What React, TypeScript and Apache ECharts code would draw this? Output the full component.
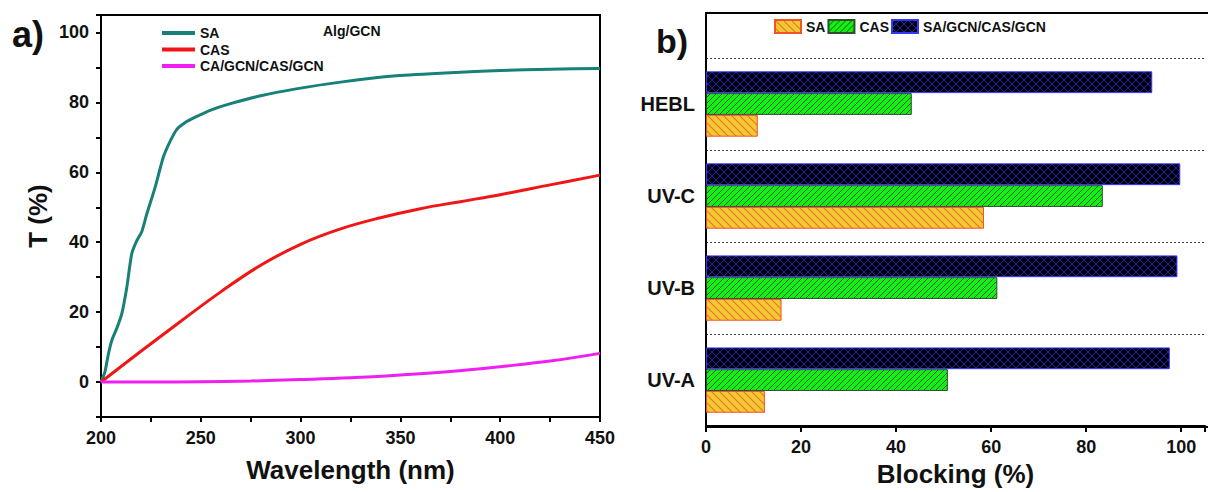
import React, { useEffect, useRef } from "react";
import * as echarts from "echarts";

// ---- Panel a) transmittance curves: [wavelength (nm), T (%)]
const saCurve: number[][] = [
  [200, 0], [202, 3], [203.7, 8], [205.4, 11.9], [208, 15.5], [210.4, 19.5], [212.9, 27],
  [215.4, 36.7], [218, 40.5], [220.4, 43], [222.9, 48], [227.1, 55.7], [231.2, 64.3],
  [234.5, 68.7], [237.9, 72.2], [242, 74.2], [247, 75.7], [255, 77.8], [264, 79.5],
  [280, 81.9], [297, 83.8], [320, 85.8], [348, 87.6], [375, 88.5], [400, 89.1],
  [425, 89.5], [450, 89.7],
];
const casCurve: number[][] = [
  [200, 0], [220, 8.8], [240, 17.4], [260, 25.8], [280, 33.4], [300, 39.4], [320, 43.8],
  [340, 47], [360, 49.6], [380, 51.6], [400, 53.6], [425, 56.4], [450, 59.2],
];
const compositeCurve: number[][] = [
  [200, 0], [225, 0], [250, 0.1], [275, 0.3], [300, 0.7], [325, 1.2], [350, 2],
  [375, 3], [400, 4.4], [425, 6], [450, 8.2],
];
const lineNames = ["SA", "CAS", "CA/GCN/CAS/GCN"];

// ---- Panel b) blocking
const blockCategories = ["UV-A", "UV-B", "UV-C", "HEBL"];
const blockSA = [12.4, 15.9, 58.5, 10.9];
const blockCAS = [50.9, 61.3, 83.5, 43.3];
const blockComposite = [97.6, 99.2, 99.8, 93.9];
const barNames = ["SA", "CAS", "SA/GCN/CAS/GCN"];

const FONT = "Liberation Sans";

function svgPattern(svg: string, size: number) {
  return {
    image: "data:image/svg+xml;charset=utf-8," + encodeURIComponent(svg),
    repeat: "repeat",
    imageWidth: size,
    imageHeight: size,
  } as any;
}

const patSA = svgPattern(
  `<svg xmlns="http://www.w3.org/2000/svg" width="8" height="8"><rect width="8" height="8" fill="#f4c832"/><path d="M-1,-1 L9,9 M-1,7 L1,9 M7,-1 L9,1" stroke="#e8742a" stroke-width="1.1"/></svg>`,
  8
);
const patCAS = svgPattern(
  `<svg xmlns="http://www.w3.org/2000/svg" width="6" height="6"><rect width="6" height="6" fill="#14f014"/><path d="M-1,7 L7,-1 M-1,1 L1,-1 M5,7 L7,5" stroke="#0d5a0d" stroke-width="1"/></svg>`,
  6
);
const patComp = svgPattern(
  `<svg xmlns="http://www.w3.org/2000/svg" width="8" height="8"><rect width="8" height="8" fill="#000010"/><path d="M-1,-1 L9,9 M-1,9 L9,-1" stroke="#20209a" stroke-width="1"/></svg>`,
  8
);

export default function App() {
  const ref = useRef<HTMLDivElement>(null);

  useEffect(() => {
    if (!ref.current) return;
    const chart = echarts.init(ref.current, null, { renderer: "svg" });
    const axisText = { fontFamily: FONT, fontWeight: "bold" as const, color: "#111", fontSize: 18 };
    const barCommon = { type: "bar", xAxisIndex: 1, yAxisIndex: 1, barGap: "0%", barCategoryGap: "29%" };
    const option: any = {
      animation: false,
      backgroundColor: "#fff",
      textStyle: { fontFamily: FONT },
      grid: [
        { left: 101, right: 608, top: 15, bottom: 75, show: true, borderColor: "#000", borderWidth: 2, backgroundColor: "transparent" },
        { left: 706, right: 1, top: 58, bottom: 65 },
      ],
      legend: [
        {
          data: lineNames,
          orient: "vertical",
          left: 157,
          top: 21,
          icon: "rect",
          itemWidth: 33,
          itemHeight: 4,
          itemGap: 2.5,
          textStyle: { fontFamily: FONT, fontWeight: "bold", fontSize: 14, color: "#111", lineHeight: 14 },
          selectedMode: false,
        },
        {
          data: barNames.map((n) => "b:" + n),
          orient: "horizontal",
          left: 769,
          top: 14,
          icon: "rect",
          itemWidth: 26,
          itemHeight: 13,
          itemGap: 2,
          formatter: (n: string) => n.replace(/^b:/, ""),
          textStyle: { fontFamily: FONT, fontWeight: "bold", fontSize: 14, color: "#111" },
          selectedMode: false,
        },
      ],
      xAxis: [
        {
          gridIndex: 0,
          type: "value",
          min: 200,
          max: 450,
          interval: 25,
          name: "Wavelength (nm)",
          nameLocation: "middle",
          nameGap: 40,
          nameTextStyle: { fontFamily: FONT, fontWeight: "bold", fontSize: 26, color: "#111" },
          axisLine: { show: true, onZero: false, lineStyle: { color: "#000", width: 2 } },
          axisTick: { show: true, inside: false, length: 5, lineStyle: { color: "#000", width: 2 } },
          axisLabel: { ...axisText, margin: 12, formatter: (v: number) => (v % 50 === 0 ? String(v) : "") },
          splitLine: { show: false },
        },
        {
          gridIndex: 1,
          type: "value",
          min: 0,
          max: 105,
          interval: 20,
          name: "Blocking (%)",
          nameLocation: "middle",
          nameGap: 33,
          nameTextStyle: { fontFamily: FONT, fontWeight: "bold", fontSize: 26, color: "#111" },
          axisLine: { show: true, onZero: false, lineStyle: { color: "#000", width: 2 } },
          axisTick: { show: true, inside: false, length: 6, lineStyle: { color: "#000", width: 2 } },
          axisLabel: { ...axisText, margin: 12, formatter: (v: number) => (v % 20 === 0 && v <= 100 ? String(v) : "") },
          splitLine: { show: false },
        },
      ],
      yAxis: [
        {
          gridIndex: 0,
          type: "value",
          min: -10,
          max: 105,
          interval: 10,
          name: "T (%)",
          nameLocation: "middle",
          nameGap: 50,
          nameTextStyle: { fontFamily: FONT, fontWeight: "bold", fontSize: 26, color: "#111" },
          axisLine: { show: true, onZero: false, lineStyle: { color: "#000", width: 2 } },
          axisTick: { show: true, inside: false, length: 5, lineStyle: { color: "#000", width: 2 } },
          axisLabel: {
            ...axisText,
            margin: 12,
            formatter: (v: number) => (v >= 0 && v <= 100 && v % 20 === 0 ? String(v) : ""),
          },
          splitLine: { show: false },
        },
        {
          gridIndex: 1,
          type: "category",
          data: blockCategories,
          axisLine: { show: true, lineStyle: { color: "#000", width: 2 } },
          axisTick: { show: false },
          axisLabel: { fontFamily: FONT, fontWeight: "bold", fontSize: 20, color: "#111", margin: 11 },
          splitLine: { show: true, lineStyle: { type: [2, 2], color: "#444", width: 1 } },
        },
      ],
      series: [
        {
          name: lineNames[0], type: "line", xAxisIndex: 0, yAxisIndex: 0, data: saCurve,
          symbol: "none", smooth: 0.2, lineStyle: { color: "#178079", width: 3 }, itemStyle: { color: "#178079" },
        },
        {
          name: lineNames[1], type: "line", xAxisIndex: 0, yAxisIndex: 0, data: casCurve,
          symbol: "none", smooth: 0.4, lineStyle: { color: "#f01616", width: 3 }, itemStyle: { color: "#f01616" },
        },
        {
          name: lineNames[2], type: "line", xAxisIndex: 0, yAxisIndex: 0, data: compositeCurve,
          symbol: "none", smooth: 0.4, lineStyle: { color: "#f01ef0", width: 3 }, itemStyle: { color: "#f01ef0" },
        },
        {
          ...barCommon, name: "b:" + barNames[2], data: blockComposite,
          itemStyle: { color: patComp, borderColor: "#3636ff", borderWidth: 1 },
        },
        {
          ...barCommon, name: "b:" + barNames[1], data: blockCAS,
          itemStyle: { color: patCAS, borderColor: "#2f4f2f", borderWidth: 1 },
        },
        {
          ...barCommon, name: "b:" + barNames[0], data: blockSA,
          itemStyle: { color: patSA, borderColor: "#f2542a", borderWidth: 1 },
        },
      ],
      graphic: [
        { type: "text", left: 12, top: 16, style: { text: "a)", font: `bold 36px "${FONT}"`, fill: "#111" } },
        { type: "text", left: 656, top: 24, style: { text: "b)", font: `bold 34px "${FONT}"`, fill: "#111" } },
        { type: "text", left: 323, top: 24, style: { text: "Alg/GCN", font: `bold 14px "${FONT}"`, fill: "#111" } },
        {
          type: "rect",
          shape: { x: 706, y: 13, width: 510, height: 414 },
          style: { fill: "none", stroke: "#000", lineWidth: 2 },
          silent: true,
        },
      ],
    };
    chart.setOption(option);
    return () => chart.dispose();
  }, []);

  return (
    <div
      ref={ref}
      style={{ position: "absolute", left: 0, top: 0, width: 1208, height: 492, background: "#fff" }}
    />
  );
}
